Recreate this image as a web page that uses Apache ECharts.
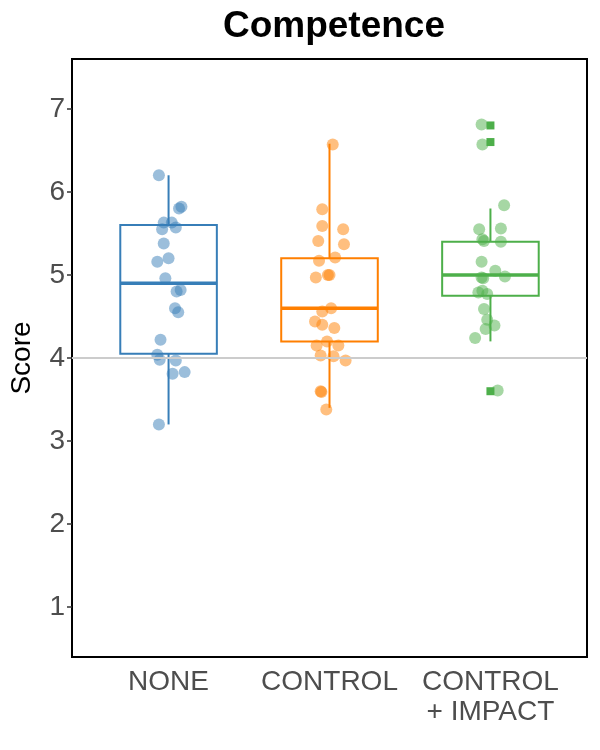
<!DOCTYPE html>
<html>
<head>
<meta charset="utf-8">
<script src="https://cdn.jsdelivr.net/npm/echarts@6/dist/echarts.min.js"></script>
<style>
	html, body { margin: 0; padding: 0; background: #fff; }
	#chart { width: 600px; height: 750px; }
</style>
</head>
<body>
<div id="chart"></div>
<script>
// groups on the x axis (positions 1, 2, 3)
var categories = [ 'NONE', 'CONTROL', 'CONTROL\n+ IMPACT' ];
var colors = [ '#377EB8', '#FF7F00', '#4DAF4A' ];
var yTicks = [ 1, 2, 3, 4, 5, 6, 7 ];

// box statistics
var boxMin = [ 3.2, 3.4, 4.2 ];
var boxQ1 = [ 4.05, 4.2, 4.75 ];
var boxMedian = [ 4.9, 4.6, 5.0 ];
var boxQ3 = [ 5.6, 5.2, 5.4 ];
var boxMax = [ 6.2, 6.58, 5.8 ];

// jittered scores, with their horizontal jitter offsets
var noneScores = [ 6.2, 5.8, 5.82, 5.63, 5.63, 5.55, 5.57, 5.38, 5.2, 5.16, 4.96,
		4.82, 4.8, 4.6, 4.55, 4.22, 4.04, 3.98, 3.97, 3.81, 3.83, 3.2 ];
var noneJitter = [ -0.06, 0.065, 0.08, -0.03, 0.02, -0.04, 0.045, -0.03, 0.0, -0.07, -0.02,
		0.075, 0.05, 0.04, 0.06, -0.05, -0.07, -0.055, 0.045, 0.025, 0.1, -0.06 ];

var controlScores = [ 6.57, 5.79, 5.59, 5.55, 5.41, 5.37, 5.17, 5.21, 4.97, 5.0, 5.0,
		4.6, 4.56, 4.44, 4.4, 4.36, 4.2, 4.15, 4.15, 4.03, 4.02, 3.97, 3.6, 3.59, 3.38 ];
var controlJitter = [ 0.02, -0.045, -0.045, 0.085, -0.07, 0.09, -0.065, 0.035, -0.085, -0.01, 0.0,
		0.01, -0.045, -0.09, -0.045, 0.03, -0.015, -0.08, 0.055, -0.055, 0.025, 0.1, -0.055, -0.05, -0.02 ];

var impactScores = [ 6.81, 6.57, 5.84, 5.55, 5.56, 5.43, 5.41, 5.4, 5.16, 5.05, 4.97,
		4.96, 4.98, 4.79, 4.81, 4.77, 4.59, 4.46, 4.39, 4.35, 4.24, 3.61 ];
var impactJitter = [ -0.055, -0.05, 0.085, -0.07, 0.065, -0.05, -0.04, 0.065, -0.055, 0.03, -0.055,
		-0.045, 0.09, -0.075, -0.05, -0.02, -0.04, -0.02, 0.025, -0.03, -0.095, 0.045 ];

// boxplot outliers (only in CONTROL + IMPACT)
var impactOutliers = [ 6.8, 6.6, 3.6 ];

var groupScores = [ noneScores, controlScores, impactScores ];
var groupJitter = [ noneJitter, controlJitter, impactJitter ];

var chart = echarts.init(document.getElementById('chart'));

var boxData = categories.map(function(c, i) {
	return [ i + 1, boxMin[i], boxQ1[i], boxMedian[i], boxQ3[i], boxMax[i], i ];
});

function renderBox(params, api) {
	var x = api.value(0);
	var idx = api.value(6);
	var col = colors[idx];
	var half = 0.3;
	var pMin = api.coord([ x, api.value(1) ]);
	var pQ1L = api.coord([ x - half, api.value(2) ]);
	var pMedL = api.coord([ x - half, api.value(3) ]);
	var pMedR = api.coord([ x + half, api.value(3) ]);
	var pQ3R = api.coord([ x + half, api.value(4) ]);
	var pQ1 = api.coord([ x, api.value(2) ]);
	var pQ3 = api.coord([ x, api.value(4) ]);
	var pMax = api.coord([ x, api.value(5) ]);
	return {
		type : 'group',
		children : [ {
			type : 'line',
			shape : { x1 : pQ3[0], y1 : pQ3[1], x2 : pMax[0], y2 : pMax[1] },
			style : { stroke : col, lineWidth : 2 }
		}, {
			type : 'line',
			shape : { x1 : pQ1[0], y1 : pQ1[1], x2 : pMin[0], y2 : pMin[1] },
			style : { stroke : col, lineWidth : 2 }
		}, {
			type : 'rect',
			shape : {
				x : pQ1L[0], y : pQ3R[1],
				width : pQ3R[0] - pQ1L[0], height : pQ1L[1] - pQ3R[1]
			},
			style : { fill : 'none', stroke : col, lineWidth : 2 }
		}, {
			type : 'line',
			shape : { x1 : pMedL[0], y1 : pMedL[1], x2 : pMedR[0], y2 : pMedR[1] },
			style : { stroke : col, lineWidth : 3.5 }
		} ]
	};
}

var series = [ {
	type : 'custom',
	name : 'boxes',
	renderItem : renderBox,
	data : boxData,
	z : 2,
	silent : true,
	markLine : {
		silent : true,
		symbol : 'none',
		label : { show : false },
		lineStyle : { color : '#cccccc', width : 2, type : 'solid' },
		data : [ { yAxis : 4 } ]
	}
} ];

groupScores.forEach(function(scores, i) {
	series.push({
		type : 'scatter',
		symbol : 'circle',
		symbolSize : 12,
		z : 3,
		itemStyle : { color : colors[i], opacity : 0.5 },
		data : scores.map(function(v, j) {
			return [ i + 1 + groupJitter[i][j], v ];
		})
	});
});

series.push({
	type : 'scatter',
	symbol : 'rect',
	symbolSize : 8,
	z : 4,
	itemStyle : { color : colors[2], opacity : 1 },
	data : impactOutliers.map(function(v) {
		return [ 3, v ];
	})
});

var option = {
	animation : false,
	title : {
		text : 'Competence',
		left : 329,
		top : 3,
		textAlign : 'center',
		textStyle : {
			fontFamily : 'Liberation Sans',
			fontSize : 37,
			fontWeight : 'bold',
			color : '#000'
		}
	},
	grid : {
		left : 71,
		right : 13,
		top : 59,
		bottom : 93,
		show : true,
		borderColor : '#000',
		borderWidth : 2,
		backgroundColor : '#fff'
	},
	xAxis : {
		type : 'value',
		min : 0.4,
		max : 3.6,
		splitLine : { show : false },
		axisLine : { show : false },
		axisTick : { show : false },
		axisLabel : {
			customValues : [ 1, 2, 3 ],
			formatter : function(v) {
				return categories[Math.round(v) - 1];
			},
			fontFamily : 'Liberation Sans',
			fontSize : 28,
			lineHeight : 30,
			color : '#4d4d4d',
			margin : 10
		}
	},
	yAxis : {
		type : 'value',
		min : 0.4,
		max : 7.6,
		name : 'Score',
		nameLocation : 'middle',
		nameGap : 36,
		nameMoveOverlap : false,
		nameTextStyle : {
			fontFamily : 'Liberation Sans',
			fontSize : 28,
			color : '#000'
		},
		splitLine : { show : false },
		axisLine : { show : false },
		axisTick : {
			show : true,
			customValues : yTicks,
			length : 5,
			lineStyle : { color : '#333', width : 1.5 }
		},
		axisLabel : {
			customValues : yTicks,
			fontFamily : 'Liberation Sans',
			fontSize : 28,
			color : '#4d4d4d',
			margin : 7
		}
	},
	series : series
};

chart.setOption(option);
</script>
</body>
</html>
